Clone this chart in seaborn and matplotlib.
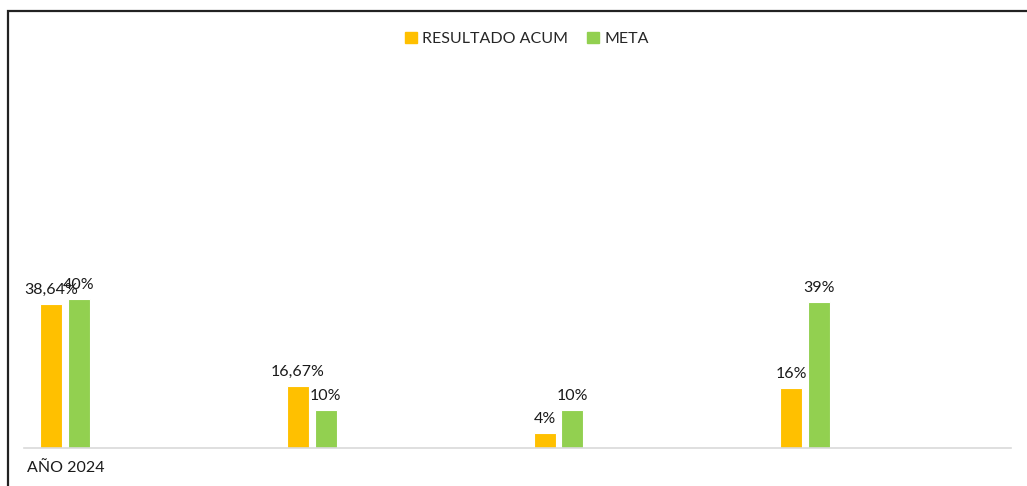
import pandas as pd
import seaborn as sns
import matplotlib.pyplot as plt
from matplotlib.patches import Rectangle

# valores (en %)
categorias = ["I1", "I2", "I3", "I4"]
resultado_acum = [38.64, 16.67, 4, 16]
meta = [40, 10, 10, 39]
series = ["RESULTADO ACUM", "META"]
colores = ["#FFC000", "#92D050"]


def etiqueta(v):
    return f"{v:g}".replace(".", ",") + "%"


def graficar():
    df = pd.DataFrame({
        "cat": categorias * 2,
        "valor": resultado_acum + meta,
        "serie": [series[0]] * 4 + [series[1]] * 4,
    })

    sns.set_style("white")
    plt.rcParams["font.family"] = ["Lato", "DejaVu Sans"]

    fig = plt.figure(figsize=(10.27, 4.86), dpi=100)
    ax = fig.add_axes([0.0234, 0.0788, 0.961, 0.767])

    sns.barplot(data=df, x="cat", y="valor", hue="serie", palette=colores,
                width=0.2245, gap=0.206, edgecolor="white", linewidth=0.8,
                saturation=1, legend=False, ax=ax)

    for cont, vals in zip(ax.containers, [resultado_acum, meta]):
        ax.bar_label(cont, labels=[etiqueta(v) for v in vals], padding=5,
                     fontsize=11.5, color="#1a1a1a")

    ax.set_ylim(0, 100)
    ax.set_xlim(-0.166, 3.834)
    ax.set_yticks([])
    ax.set_xticks([])
    ax.set_ylabel("")
    ax.set_xlabel("AÑO 2024", loc="left", fontsize=11.5, color="#1a1a1a", labelpad=12)
    ax.xaxis.set_label_coords(0.003, -0.035)
    ax.xaxis.label.set_verticalalignment("top")
    for s in ["top", "left", "right"]:
        ax.spines[s].set_visible(False)
    ax.spines["bottom"].set_color("#D9D9D9")
    ax.spines["bottom"].set_linewidth(1.2)

    handles = [Rectangle((0, 0), 1, 1, color=c) for c in colores]
    fig.legend(handles, series, loc="center", bbox_to_anchor=(527 / 1027, 0.92),
               ncol=2, frameon=False, handlelength=0.75, handleheight=0.75,
               handletextpad=0.3, columnspacing=1.2, fontsize=11.5)

    # marco exterior
    fig.patches.append(Rectangle((8 / 1027, -0.1), 1.1, 1.1 - 11 / 486,
                                 transform=fig.transFigure, fill=False,
                                 edgecolor="#222222", linewidth=1.6))

    fig.savefig("out.png", dpi=100)


if __name__ == "__main__":
    graficar()
